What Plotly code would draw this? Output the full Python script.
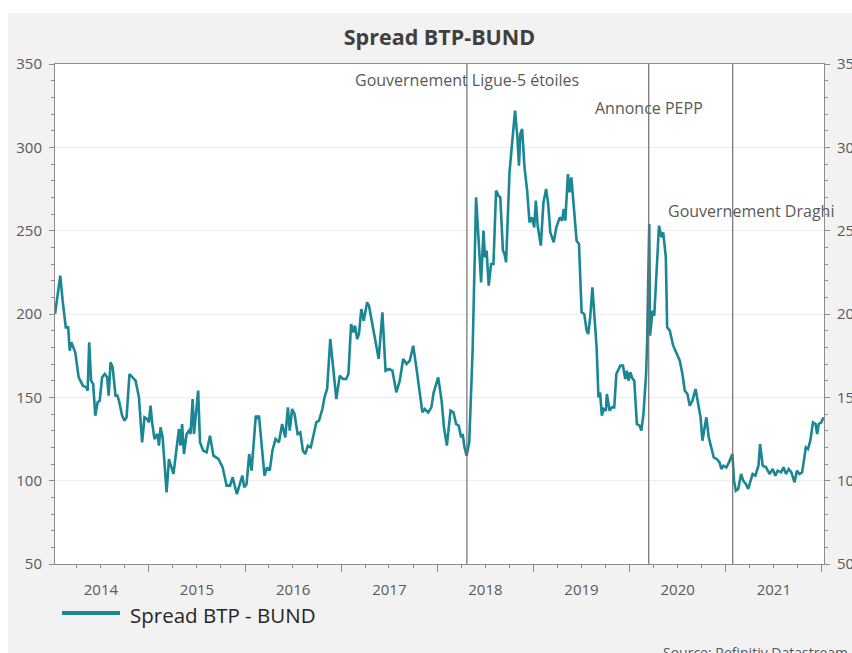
import plotly.graph_objects as go

# Weekly-ish readings of the BTP-Bund 10Y spread (basis points)
dates = [
    "2014-01-09", "2014-01-29", "2014-02-07", "2014-02-19", "2014-02-28", "2014-03-06", "2014-03-12",
    "2014-03-18", "2014-03-27", "2014-04-09", "2014-04-25", "2014-05-08", "2014-05-13", "2014-05-19",
    "2014-05-26", "2014-06-03", "2014-06-11", "2014-06-20", "2014-06-28", "2014-07-07", "2014-07-17",
    "2014-07-26", "2014-08-01", "2014-08-08", "2014-08-16", "2014-08-27", "2014-09-03", "2014-09-09",
    "2014-09-21", "2014-09-30", "2014-10-08", "2014-10-19", "2014-10-29", "2014-11-11", "2014-11-24",
    "2014-12-06", "2014-12-15", "2014-12-25",
    "2015-01-01", "2015-01-07", "2015-01-13", "2015-01-22", "2015-02-02", "2015-02-08", "2015-02-14",
    "2015-02-22", "2015-03-09", "2015-03-18", "2015-04-04", "2015-04-16", "2015-04-25", "2015-05-01",
    "2015-05-07", "2015-05-14", "2015-05-24", "2015-06-02", "2015-06-08", "2015-06-16", "2015-06-21",
    "2015-07-01", "2015-07-07", "2015-07-14", "2015-07-26", "2015-08-08", "2015-08-21", "2015-09-03",
    "2015-09-22", "2015-10-08", "2015-10-23", "2015-11-05", "2015-11-15", "2015-12-01", "2015-12-16",
    "2015-12-22", "2015-12-29",
    "2016-01-07", "2016-01-17", "2016-01-26", "2016-02-11", "2016-02-17", "2016-02-23", "2016-03-15",
    "2016-03-25", "2016-04-04", "2016-04-14", "2016-04-26", "2016-05-09", "2016-05-21", "2016-06-02",
    "2016-06-12", "2016-06-19", "2016-06-28", "2016-07-07", "2016-07-19", "2016-07-29", "2016-08-08",
    "2016-08-17", "2016-08-27", "2016-09-07", "2016-09-15", "2016-09-28", "2016-10-08", "2016-10-21",
    "2016-10-29", "2016-11-08", "2016-11-20", "2016-11-30", "2016-12-13", "2016-12-26",
    "2017-01-07", "2017-01-19", "2017-01-28", "2017-02-07", "2017-02-16", "2017-02-22", "2017-03-02",
    "2017-03-09", "2017-03-18", "2017-03-27", "2017-04-09", "2017-04-16", "2017-04-29", "2017-05-10",
    "2017-05-23", "2017-06-06", "2017-06-18", "2017-07-01", "2017-07-14", "2017-07-29", "2017-08-11",
    "2017-08-24", "2017-09-06", "2017-09-18", "2017-10-01", "2017-10-13", "2017-10-26", "2017-11-05",
    "2017-11-14", "2017-11-27", "2017-12-09", "2017-12-18",
    "2018-01-04", "2018-01-17", "2018-01-26", "2018-02-06", "2018-02-20", "2018-03-03", "2018-03-13",
    "2018-03-23", "2018-04-01", "2018-04-07", "2018-04-14", "2018-04-22", "2018-05-02", "2018-05-15",
    "2018-05-28", "2018-06-06", "2018-06-16", "2018-06-25", "2018-07-01", "2018-07-07", "2018-07-15",
    "2018-07-24", "2018-08-02", "2018-08-12", "2018-08-21", "2018-08-28", "2018-09-07", "2018-09-13",
    "2018-09-19", "2018-10-02", "2018-10-10", "2018-10-23", "2018-11-01", "2018-11-07", "2018-11-12",
    "2018-11-19", "2018-11-28", "2018-12-08", "2018-12-17", "2018-12-26",
    "2019-01-04", "2019-01-10", "2019-01-17", "2019-01-29", "2019-02-08", "2019-02-18", "2019-02-26",
    "2019-03-06", "2019-03-19", "2019-03-29", "2019-04-11", "2019-04-20", "2019-04-26", "2019-05-02",
    "2019-05-12", "2019-05-18", "2019-05-25", "2019-06-03", "2019-06-14", "2019-06-23", "2019-07-03",
    "2019-07-13", "2019-07-22", "2019-07-28", "2019-08-04", "2019-08-13", "2019-08-20", "2019-08-29",
    "2019-09-05", "2019-09-11", "2019-09-18", "2019-09-24", "2019-10-03", "2019-10-07", "2019-10-17",
    "2019-10-26", "2019-11-04", "2019-11-12", "2019-11-27", "2019-12-07", "2019-12-16", "2019-12-22",
    "2019-12-28",
    "2020-01-04", "2020-01-13", "2020-01-19", "2020-01-29", "2020-02-08", "2020-02-15", "2020-02-23",
    "2020-03-04", "2020-03-08", "2020-03-16", "2020-03-19", "2020-03-29", "2020-04-04", "2020-04-22",
    "2020-05-02", "2020-05-08", "2020-05-18", "2020-05-23", "2020-06-02", "2020-06-15", "2020-06-28",
    "2020-07-10", "2020-07-20", "2020-07-29", "2020-08-08", "2020-08-17", "2020-08-27", "2020-09-08",
    "2020-09-18", "2020-09-27", "2020-10-04", "2020-10-13", "2020-10-19", "2020-10-28", "2020-11-07",
    "2020-11-16", "2020-11-28", "2020-12-08", "2020-12-15", "2020-12-23",
    "2021-01-03", "2021-01-13", "2021-01-26", "2021-02-01", "2021-02-08", "2021-02-17", "2021-02-28",
    "2021-03-08", "2021-03-18", "2021-03-27", "2021-04-07", "2021-04-13", "2021-04-23", "2021-05-05",
    "2021-05-11", "2021-05-21", "2021-06-03", "2021-06-16", "2021-06-28", "2021-07-08", "2021-07-17",
    "2021-07-30", "2021-08-08", "2021-08-18", "2021-08-28", "2021-09-07", "2021-09-19", "2021-09-28",
    "2021-10-08", "2021-10-18", "2021-11-01", "2021-11-09", "2021-11-18", "2021-11-28", "2021-12-08",
    "2021-12-14", "2021-12-20", "2021-12-30", "2022-01-07",
]

spread = [
    200, 223, 208, 192, 192, 178, 183,
    181, 177, 162, 157, 156, 154, 183,
    160, 158, 139, 147, 148, 162, 164,
    162, 151, 171, 168, 151, 151, 148,
    139, 136, 138, 164, 162, 160, 150,
    123, 138, 137,
    135, 145, 135, 125, 128, 121, 132,
    126, 93, 113, 104, 118, 131, 121,
    134, 116, 128, 130, 128, 149, 128,
    144, 154, 123, 118, 117, 127, 115,
    113, 108, 97, 97, 102, 92, 100,
    103, 96,
    98, 116, 106, 139, 137, 139, 103,
    108, 106, 118, 125, 123, 134, 126,
    144, 130, 143, 140, 128, 129, 118,
    116, 121, 120, 126, 135, 136, 143,
    150, 155, 185, 170, 149, 163,
    161, 161, 164, 194, 189, 193, 185,
    188, 203, 196, 207, 205, 193, 185,
    173, 201, 166, 167, 166, 153, 160,
    173, 170, 172, 181, 168, 154, 141,
    143, 141, 144, 153,
    162, 148, 132, 121, 142, 141, 134,
    133, 126, 128, 120, 115, 123, 179,
    270, 248, 219, 250, 234, 238, 217,
    230, 230, 274, 271, 270, 238, 236,
    231, 285, 298, 322, 306, 289, 308,
    311, 288, 274, 255, 258,
    252, 268, 253, 241, 267, 275, 266,
    249, 243, 252, 258, 256, 263, 256,
    284, 273, 282, 266, 244, 242, 201,
    200, 190, 188, 197, 216, 202, 180,
    150, 153, 139, 143, 142, 152, 142,
    144, 144, 164, 169, 169, 161, 166,
    160,
    165, 161, 160, 134, 133, 130, 140,
    164, 184, 254, 187, 202, 199, 253,
    246, 249, 234, 192, 190, 181, 176,
    172, 164, 154, 152, 145, 148, 155,
    146, 138, 124, 132, 138, 126, 120,
    114, 113, 111, 107, 109,
    108, 111, 116, 100, 94, 95, 104,
    100, 98, 95, 101, 104, 103, 109,
    122, 109, 108, 104, 107, 103, 106,
    105, 108, 104, 107, 105, 99, 106,
    104, 105, 120, 119, 124, 135, 134,
    128, 134, 135, 138,
]

# Political / policy events marked on the chart
event_dates = ["2018-04-23", "2020-03-14", "2021-01-27"]
event_labels = ["Gouvernement Ligue-5 étoiles", "Annonce PEPP", "Gouvernement Draghi"]

series_name = "Spread BTP - BUND"
chart_title = "Spread BTP-BUND"
source_text = "Source: Refinitiv Datastream"

LINE_COLOR = "#1a8794"
AXIS_COLOR = "#8c8c8c"
TEXT_COLOR = "#595959"
FONT = "Open Sans"

W, H = 852, 653
L, R, T, B = 55, 28, 64, 89
plot_w, plot_h = W - L - R, H - T - B


def px_x(px):
    return (px - L) / plot_w


def px_y(py):
    return (H - B - py) / plot_h


fig = go.Figure()
fig.add_trace(go.Scatter(
    x=dates, y=spread, mode="lines", name=series_name,
    line=dict(color=LINE_COLOR, width=2.6),
    showlegend=False,
))
# same series attached to the mirrored right-hand scale (transparent) so that axis is drawn
fig.add_trace(go.Scatter(
    x=dates, y=spread, mode="lines", yaxis="y2", opacity=0,
    line=dict(color=LINE_COLOR, width=0.1), hoverinfo="skip", showlegend=False,
))

shapes = []
# white page margin round the grey chart panel
shapes.append(dict(type="rect", xref="paper", yref="paper",
                   x0=px_x(-20), x1=px_x(W + 20), y0=px_y(13), y1=px_y(-20),
                   fillcolor="white", line=dict(width=0), layer="below"))
shapes.append(dict(type="rect", xref="paper", yref="paper",
                   x0=px_x(-20), x1=px_x(8), y0=px_y(H + 20), y1=px_y(-20),
                   fillcolor="white", line=dict(width=0), layer="below"))
# event markers
for d in event_dates:
    shapes.append(dict(type="line", xref="x", yref="paper", x0=d, x1=d, y0=0, y1=1,
                       line=dict(color="#707070", width=1.2)))
# legend sample
shapes.append(dict(type="line", xref="paper", yref="paper",
                   x0=px_x(62), x1=px_x(120), y0=px_y(613), y1=px_y(613),
                   line=dict(color=LINE_COLOR, width=4)))

annotations = []
label_pos = [(340.5, 0), (323.5, 0), (262, 18)]
for d, txt, (yv, xs) in zip(event_dates, event_labels, label_pos):
    annotations.append(dict(x=d, y=yv, xref="x", yref="y", text=txt, showarrow=False,
                            xanchor="center", yanchor="middle", xshift=xs,
                            font=dict(family=FONT, size=16, color=TEXT_COLOR)))
annotations.append(dict(x=px_x(128), y=px_y(615), xref="paper", yref="paper",
                        text=series_name, showarrow=False, xanchor="left", yanchor="middle",
                        font=dict(family=FONT, size=20.5, color="#262626")))
annotations.append(dict(x=px_x(661), y=px_y(641), xref="paper", yref="paper",
                        text=source_text, showarrow=False, xanchor="left", yanchor="top",
                        font=dict(family=FONT, size=14, color=TEXT_COLOR)))

tickfont = dict(family=FONT, size=15, color=TEXT_COLOR)

fig.update_layout(
    width=W, height=H, autosize=False,
    margin=dict(l=L, r=R, t=T, b=B, pad=0, autoexpand=False),
    paper_bgcolor="#f2f2f2", plot_bgcolor="#ffffff",
    title=dict(text=f"<b>{chart_title}</b>", x=0.5, xref="paper", xanchor="center",
               y=1 - 37 / H, yref="container", yanchor="middle",
               font=dict(family=FONT, size=21.5, color="#404040")),
    xaxis=dict(
        type="date", range=["2014-01-09", "2022-01-09"], automargin=False,
        showline=True, linecolor=AXIS_COLOR, linewidth=1, mirror=True,
        ticks="outside", ticklen=7, tickcolor=AXIS_COLOR, tickwidth=1,
        dtick="M12", tick0="2014-01-01", tickformat="%Y", ticklabelmode="period",
        ticklabelstandoff=5,
        minor=dict(dtick="M3", tick0="2014-01-01", ticks="outside", ticklen=3,
                   tickcolor=AXIS_COLOR, showgrid=False),
        showgrid=False, zeroline=False, tickfont=tickfont, fixedrange=True,
    ),
    yaxis=dict(
        range=[50, 350], dtick=50, tick0=50, automargin=False,
        showline=True, linecolor=AXIS_COLOR, linewidth=1,
        ticks="outside", ticklen=5, tickcolor=AXIS_COLOR,
        minor=dict(dtick=10, ticks="outside", ticklen=3, tickcolor=AXIS_COLOR, showgrid=False),
        showgrid=True, gridcolor="#eeeeee", gridwidth=1, zeroline=False,
        tickfont=tickfont, ticklabelstandoff=4,
    ),
    yaxis2=dict(
        overlaying="y", side="right", range=[50, 350], dtick=50, tick0=50, automargin=False,
        showline=True, linecolor=AXIS_COLOR, linewidth=1,
        ticks="outside", ticklen=5, tickcolor=AXIS_COLOR,
        minor=dict(dtick=10, ticks="outside", ticklen=3, tickcolor=AXIS_COLOR, showgrid=False),
        showgrid=False, zeroline=False, tickfont=tickfont, ticklabelstandoff=4,
    ),
    shapes=shapes,
    annotations=annotations,
    showlegend=False,
)

fig.write_html("out.html")
